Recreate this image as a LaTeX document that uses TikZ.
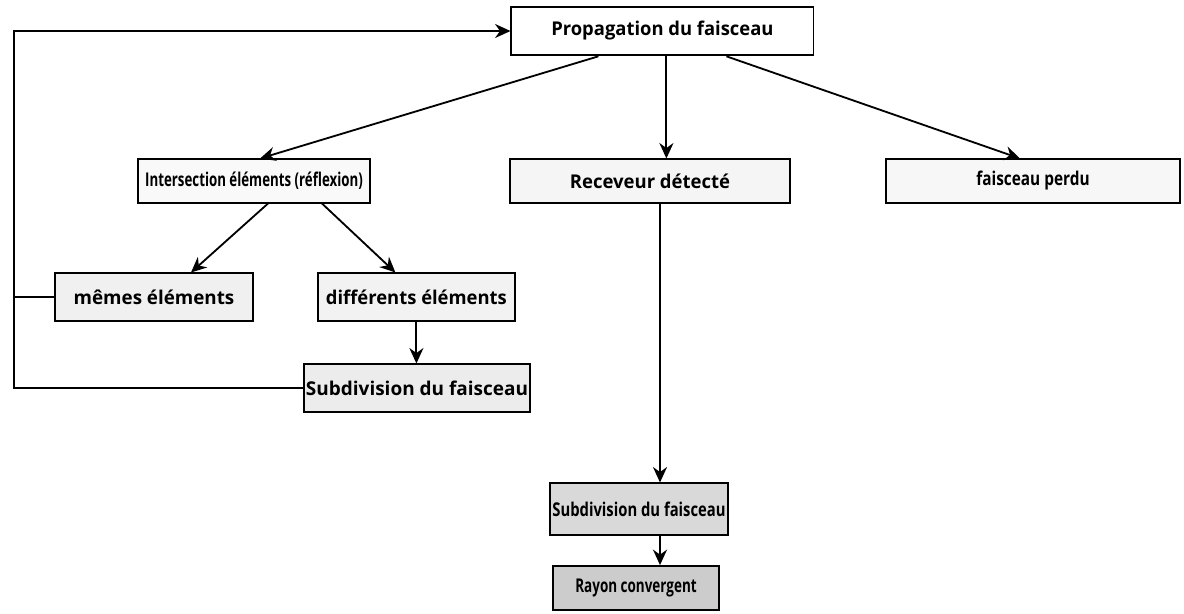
\documentclass[tikz,border=0pt]{standalone}
\usepackage{fontspec}
\setmainfont{Open Sans}
\usetikzlibrary{arrows.meta}

\begin{document}
\begin{tikzpicture} [
  box/.style={draw, line width=1.3pt, inner sep=0pt, align=center},
  squeeze/.style={font=\bfseries\fontsize{13.5pt}{16pt}\selectfont\addfontfeature{FakeStretch=#1}},
  arr/.style={line width=1.3pt, -{Stealth[length=11pt,width=10pt]}},
  link/.style={line width=1.3pt}]
\useasboundingbox (0,0) rectangle (29.6,-15.325);

\node [box, squeeze=0.97, fill=white, minimum width=7.55cm, minimum height=1.22cm] (prop) at (16.56,-0.775) {Propagation du faisceau};

\node [box, squeeze=0.70, fill=gray!5, minimum width=5.78cm, minimum height=1.08cm] (inter) at (6.35,-4.525) {Intersection éléments (réflexion)};
\node [box, squeeze=0.975, fill=gray!8, minimum width=7cm, minimum height=1.08cm] (recev) at (16.25,-4.525) {Receveur détecté};
\node [box, squeeze=0.81, fill=gray!6, minimum width=7.35cm, minimum height=1.08cm] (perdu) at (25.825,-4.525) {faisceau perdu};

\node [box, squeeze=0.99, fill=gray!12, minimum width=4.95cm, minimum height=1.18cm] (memes) at (3.85,-7.425) {mêmes éléments};
\node [box, squeeze=0.97, fill=gray!10, minimum width=4.93cm, minimum height=1.18cm] (diff) at (10.41,-7.425) {différents éléments};
\node [box, squeeze=1, fill=gray!15, minimum width=5.65cm, minimum height=1.18cm] (sub1) at (10.425,-9.7) {Subdivision du faisceau};

\node [box, squeeze=0.78, fill=gray!30, minimum width=4.45cm, minimum height=1.28cm] (sub2) at (15.975,-12.725) {Subdivision du faisceau};
\node [box, squeeze=0.71, fill=gray!40, minimum width=4.13cm, minimum height=1.1cm] (rayon) at (15.9,-14.7) {Rayon convergent};

\coordinate (turn) at (0.35,0);

\draw [arr] ([xshift=-1.6cm]prop.south) -- ([xshift=0.15cm]inter.north);
\draw [arr] ([xshift=0.1cm]prop.south) -- ([xshift=0.1cm]prop.south |- recev.north);
\draw [arr] ([xshift=1.6cm]prop.south) -- ([xshift=-0.325cm]perdu.north);

\draw [arr] ([xshift=0.35cm]inter.south) -- ([xshift=0.925cm]memes.north);
\draw [arr] ([xshift=1.7cm]inter.south) -- ([xshift=-0.525cm]diff.north);
\draw [arr] (diff.south) -- (diff.south |- sub1.north);

\draw [arr] ([xshift=0.25cm]recev.south) -- ([xshift=0.25cm]recev.south |- sub2.north);
\draw [arr] ([xshift=0.525cm]sub2.south) -- ([xshift=0.525cm]sub2.south |- rayon.north);

\draw [arr] (memes.west) -- (memes.west -| turn) |- (prop.west);
\draw [link] (sub1.west) -- (sub1.west -| turn) -- (memes.west -| turn);
\end{tikzpicture}
\end{document}
